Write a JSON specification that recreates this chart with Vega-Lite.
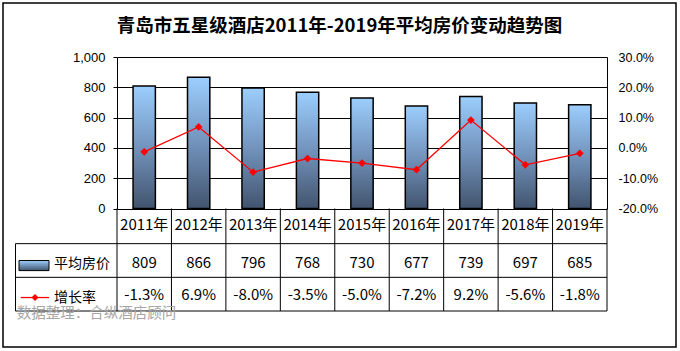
{
  "$schema": "https://vega.github.io/schema/vega-lite/v6.json",
  "width": 673,
  "height": 344,
  "autosize": {"type": "none"},
  "padding": {"left": 3, "top": 3, "right": 4, "bottom": 4},
  "background": "#ffffff",
  "config": {
    "view": {"stroke": "#000000", "strokeWidth": 1.5},
    "font": "Liberation Sans",
    "locale": {"number": {"decimal": ".", "thousands": ",", "grouping": [3], "currency": ["", ""], "minus": "-"}}
  },
  "title": {
    "text": "青岛市五星级酒店2011年-2019年平均房价变动趋势图",
    "font": "Noto Sans CJK SC",
    "fontSize": 18.5,
    "fontWeight": "bold",
    "color": "#000000",
    "anchor": "middle",
    "frame": "group",
    "baseline": "middle",
    "offset": -41
  },
  "data": {
    "values": [
      {"year": "2011年", "price": 809, "rate": -0.013},
      {"year": "2012年", "price": 866, "rate": 0.069},
      {"year": "2013年", "price": 796, "rate": -0.080},
      {"year": "2014年", "price": 768, "rate": -0.035},
      {"year": "2015年", "price": 730, "rate": -0.050},
      {"year": "2016年", "price": 677, "rate": -0.072},
      {"year": "2017年", "price": 739, "rate": 0.092},
      {"year": "2018年", "price": 697, "rate": -0.056},
      {"year": "2019年", "price": 685, "rate": -0.018}
    ]
  },
  "layer": [
    {
      "layer": [
        {
          "mark": {
            "type": "bar",
            "width": {"band": 0.41},
            "stroke": "#000000",
            "strokeWidth": 1.5,
            "fill": {"gradient": "linear", "x1": 0, "y1": 0, "x2": 0, "y2": 1,
                     "stops": [{"offset": 0, "color": "#9CCEFD"}, {"offset": 0.5, "color": "#7293BC"}, {"offset": 1, "color": "#42546E"}]}
          },
          "encoding": {
            "x": {"field": "year", "type": "nominal", "axis": null, "sort": null,
                  "scale": {"type": "band", "domain": ["2011年","2012年","2013年","2014年","2015年","2016年","2017年","2018年","2019年"], "paddingInner": 0, "paddingOuter": 0, "range": [114, 604]}},
            "y": {"field": "price", "type": "quantitative",
                  "scale": {"domain": [0, 1000], "range": [205.5, 54], "nice": false, "zero": false},
                  "axis": {"orient": "left", "offset": -114, "values": [0, 200, 400, 600, 800, 1000], "format": ",.0f",
                           "domain": true, "domainColor": "#000000", "domainWidth": 1,
                           "grid": true, "gridColor": "#000000", "gridWidth": 1, "gridOpacity": 1,
                           "ticks": true, "tickSize": 4, "tickColor": "#000000", "tickWidth": 1,
                           "labelFontSize": 13, "labelColor": "#000000", "labelFont": "Liberation Sans", "labelPadding": 8, "title": null}},
            "y2": {"datum": 0}
          }
        }
      ]
    },
    {
      "layer": [
        {
          "mark": {"type": "line", "color": "#FF0000", "strokeWidth": 1.3},
          "encoding": {
            "x": {"field": "year", "type": "nominal", "axis": null, "sort": null},
            "y": {"field": "rate", "type": "quantitative", "scale": {"domain": [-0.2, 0.3], "range": [205.5, 54], "nice": false, "zero": false},
                  "axis": {"orient": "right", "offset": -69, "values": [-0.2, -0.1, 0, 0.1, 0.2, 0.3], "format": ".1%",
                           "domain": true, "domainColor": "#000000", "domainWidth": 1, "grid": false,
                           "ticks": false, "labelFontSize": 12.5, "labelColor": "#000000", "labelFont": "Liberation Sans", "labelPadding": 11, "title": null}}
          }
        },
        {
          "mark": {"type": "point", "shape": "diamond", "filled": true, "color": "#FF0000", "size": 60, "opacity": 1},
          "encoding": {
            "x": {"field": "year", "type": "nominal", "axis": null, "sort": null},
            "y": {"field": "rate", "type": "quantitative"}
          }
        }
      ]
    },
    {
      "layer": [
        {
          "mark": {"type": "rule", "color": "#000000", "strokeWidth": 1},
          "encoding": {
            "x": {"field": "year", "type": "nominal", "bandPosition": 0, "axis": null, "sort": null},
            "y": {"datum": "年份", "type": "nominal", "bandPosition": -0.044, "axis": null,
                  "scale": {"type": "band", "domain": ["年份", "平均房价", "增长率"], "paddingInner": 0, "paddingOuter": 0, "range": [207, 308]}},
            "y2": {"datum": "增长率", "bandPosition": 1}
          }
        },
        {
          "data": {"values": [{"edge": "right"}]},
          "mark": {"type": "rule", "color": "#000000", "strokeWidth": 1},
          "encoding": {
            "x": {"datum": "2019年", "type": "nominal", "bandPosition": 1, "axis": null},
            "y": {"datum": "年份", "type": "nominal", "bandPosition": -0.044, "axis": null},
            "y2": {"datum": "增长率", "bandPosition": 1}
          }
        },
        {
          "data": {"values": [{"row": "平均房价"}, {"row": "增长率"}]},
          "mark": {"type": "rule", "color": "#000000", "strokeWidth": 1},
          "encoding": {
            "x": {"datum": "2011年", "type": "nominal", "bandPosition": -1.864, "axis": null},
            "x2": {"datum": "2019年", "bandPosition": 1},
            "y": {"field": "row", "type": "nominal", "bandPosition": 0, "axis": null}
          }
        },
        {
          "data": {"values": [{"edge": "bottom"}]},
          "mark": {"type": "rule", "color": "#000000", "strokeWidth": 1},
          "encoding": {
            "x": {"datum": "2011年", "type": "nominal", "bandPosition": -1.864, "axis": null},
            "x2": {"datum": "2019年", "bandPosition": 1},
            "y": {"datum": "增长率", "type": "nominal", "bandPosition": 1, "axis": null}
          }
        },
        {
          "data": {"values": [{"edge": "legend-left"}]},
          "mark": {"type": "rule", "color": "#000000", "strokeWidth": 1},
          "encoding": {
            "x": {"datum": "2011年", "type": "nominal", "bandPosition": -1.864, "axis": null},
            "y": {"datum": "平均房价", "type": "nominal", "bandPosition": 0, "axis": null},
            "y2": {"datum": "增长率", "bandPosition": 1}
          }
        },
        {
          "mark": {"type": "text", "font": "Noto Sans CJK SC", "fontSize": 15, "color": "#000000", "baseline": "middle", "align": "center"},
          "encoding": {
            "x": {"field": "year", "type": "nominal", "axis": null, "sort": null},
            "y": {"datum": "年份", "type": "nominal", "bandPosition": 0.46, "axis": null},
            "text": {"field": "year", "type": "nominal"}
          }
        },
        {
          "mark": {"type": "text", "font": "Noto Sans CJK SC", "fontSize": 15, "color": "#000000", "baseline": "middle", "align": "center"},
          "encoding": {
            "x": {"field": "year", "type": "nominal", "axis": null, "sort": null},
            "y": {"datum": "平均房价", "type": "nominal", "bandPosition": 0.58, "axis": null},
            "text": {"field": "price", "type": "quantitative", "format": "d"}
          }
        },
        {
          "mark": {"type": "text", "font": "Noto Sans CJK SC", "fontSize": 15, "color": "#000000", "baseline": "middle", "align": "center"},
          "encoding": {
            "x": {"field": "year", "type": "nominal", "axis": null, "sort": null},
            "y": {"datum": "增长率", "type": "nominal", "bandPosition": 0.53, "axis": null},
            "text": {"field": "rate", "type": "quantitative", "format": ".1%"}
          }
        },
        {
          "data": {"values": [{"series": "平均房价"}]},
          "mark": {
            "type": "rect",
            "stroke": "#000000",
            "strokeWidth": 1,
            "fill": {"gradient": "linear", "x1": 0, "y1": 0, "x2": 0, "y2": 1,
                     "stops": [{"offset": 0, "color": "#9CCEFD"}, {"offset": 1, "color": "#42546E"}]}
          },
          "encoding": {
            "x": {"datum": "2011年", "type": "nominal", "bandPosition": -1.8, "axis": null},
            "x2": {"datum": "2011年", "bandPosition": -1.249},
            "y": {"datum": "平均房价", "type": "nominal", "bandPosition": 0.5, "axis": null},
            "y2": {"datum": "平均房价", "bandPosition": 0.8}
          }
        },
        {
          "data": {"values": [{"series": "增长率"}]},
          "mark": {"type": "rule", "color": "#FF0000", "strokeWidth": 1.3},
          "encoding": {
            "x": {"datum": "2011年", "type": "nominal", "bandPosition": -1.769, "axis": null},
            "x2": {"datum": "2011年", "bandPosition": -1.249},
            "y": {"datum": "增长率", "type": "nominal", "bandPosition": 0.6, "axis": null}
          }
        },
        {
          "data": {"values": [{"series": "增长率"}]},
          "mark": {"type": "point", "shape": "diamond", "filled": true, "color": "#FF0000", "size": 50, "opacity": 1},
          "encoding": {
            "x": {"datum": "2011年", "type": "nominal", "bandPosition": -1.506, "axis": null},
            "y": {"datum": "增长率", "type": "nominal", "bandPosition": 0.6, "axis": null}
          }
        },
        {
          "data": {"values": [{"series": "平均房价", "rowpos": "平均房价"}, {"series": "增长率", "rowpos": "增长率"}]},
          "mark": {"type": "text", "font": "Noto Sans CJK SC", "fontSize": 14, "color": "#000000", "baseline": "middle", "align": "left"},
          "encoding": {
            "x": {"datum": "2011年", "type": "nominal", "bandPosition": -1.157, "axis": null},
            "y": {"field": "rowpos", "type": "nominal", "bandPosition": 0.6, "axis": null},
            "text": {"field": "series", "type": "nominal"}
          }
        },
        {
          "data": {"values": [{"note": "数据整理：合纵酒店顾问"}]},
          "mark": {"type": "text", "font": "Noto Sans CJK SC", "fontSize": 14.5, "color": "#A6A6A6", "baseline": "middle", "align": "left"},
          "encoding": {
            "x": {"datum": "2011年", "type": "nominal", "bandPosition": -1.843, "axis": null},
            "y": {"datum": "增长率", "type": "nominal", "bandPosition": 1.1, "axis": null},
            "text": {"field": "note", "type": "nominal"}
          }
        }
      ]
    }
  ],
  "resolve": {"scale": {"y": "independent"}, "axis": {"y": "independent"}}
}
